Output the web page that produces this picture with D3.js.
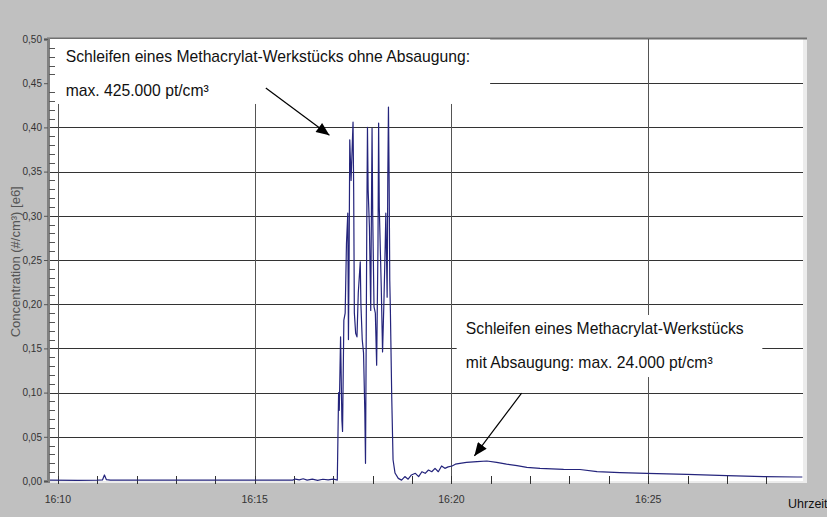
<!DOCTYPE html>
<html>
<head>
<meta charset="utf-8">
<script src="https://cdn.jsdelivr.net/npm/d3@7/dist/d3.min.js"></script>
<style>
  body { margin: 0; background: #c0c0c0; }
  svg { display: block; font-family: Arial, "Liberation Sans", sans-serif; }
</style>
</head>
<body>
<div id="chart"></div>
<script>
// measured concentration, 1e6 particles/cm3
const times = [
  "16:09:48","16:10:30","16:11:00","16:11:08","16:11:11","16:11:14","16:11:20","16:12:30","16:14:00","16:15:30",
  "16:15:58","16:16:02","16:16:08","16:16:14","16:16:20","16:16:28","16:16:36","16:16:44","16:16:52","16:17:00","16:17:05",
  "16:17:06","16:17:08","16:17:09","16:17:10","16:17:11","16:17:13","16:17:14","16:17:16","16:17:18","16:17:20",
  "16:17:22","16:17:23","16:17:24","16:17:25","16:17:27","16:17:30","16:17:31","16:17:32","16:17:34","16:17:36",
  "16:17:38","16:17:41","16:17:42","16:17:44","16:17:46","16:17:48","16:17:49","16:17:50","16:17:51","16:17:52",
  "16:17:53","16:17:55","16:17:57","16:17:58","16:17:59","16:18:00","16:18:02","16:18:04","16:18:06","16:18:08",
  "16:18:09","16:18:10","16:18:13","16:18:15","16:18:17","16:18:19","16:18:20","16:18:22","16:18:23","16:18:24",
  "16:18:25","16:18:26","16:18:27","16:18:29","16:18:31","16:18:34",
  "16:18:39","16:18:44","16:18:49","16:18:54","16:18:59","16:19:05","16:19:10","16:19:15","16:19:20","16:19:25",
  "16:19:30","16:19:35","16:19:40","16:19:45","16:19:50","16:19:55","16:20:01","16:20:06","16:20:13","16:20:23",
  "16:20:39","16:20:54","16:21:09","16:21:24","16:21:40","16:21:55","16:22:15","16:22:51","16:23:16","16:23:42",
  "16:24:17","16:24:58","16:25:59","16:27:00","16:27:56","16:28:47","16:28:55"
];
const values = [
  0.001,0.0008,0.001,0.0012,0.0068,0.0015,0.001,0.001,0.0009,0.001,
  0.001,0.0022,0.0012,0.0025,0.001,0.0021,0.0008,0.002,0.0012,0.0022,0.0012,
  0.001,0.10,0.08,0.122,0.163,0.069,0.056,0.182,0.19,0.269,
  0.303,0.16,0.25,0.386,0.34,0.406,0.326,0.19,0.167,0.163,
  0.213,0.248,0.20,0.16,0.145,0.077,0.02,0.15,0.295,0.40,
  0.33,0.287,0.193,0.303,0.399,0.30,0.197,0.19,0.131,0.265,
  0.405,0.31,0.22,0.146,0.20,0.265,0.303,0.208,0.344,0.423,
  0.344,0.227,0.19,0.095,0.024,0.009,
  0.003,0.001,0.005,0.002,0.0068,0.0087,0.005,0.0105,0.0087,0.0124,
  0.0105,0.0143,0.0105,0.017,0.0143,0.016,0.017,0.019,0.020,0.021,
  0.022,0.0226,0.021,0.019,0.0173,0.0155,0.0143,0.0132,0.0130,0.0105,
  0.0094,0.0087,0.0075,0.006,0.0049,0.0045,0.0045
];

const yMajor = [0, 0.05, 0.10, 0.15, 0.20, 0.25, 0.30, 0.35, 0.40, 0.45, 0.50];
const xMajor = ["16:10", "16:15", "16:20", "16:25"];
const xRange = ["16:09:48", "16:28:56"];

const yTitle = "Concentration (#/cm³) [e6]";
const xTitle = "Uhrzeit";
const noteTop = ["Schleifen eines Methacrylat-Werkstücks ohne Absaugung:", "max. 425.000 pt/cm³"];
const noteBottom = ["Schleifen eines Methacrylat-Werkstücks", "mit Absaugung: max. 24.000 pt/cm³"];

const W = 827, H = 517;
const m = { left: 50, top: 39, right: 24, bottom: 36 };

const parseT = d3.timeParse("%H:%M:%S");
const parseHM = d3.timeParse("%H:%M");
const data = times.map((t, i) => ({ t: parseT(t), v: values[i] }));

const svg = d3.select("#chart").append("svg")
  .attr("width", W).attr("height", H);

const x = d3.scaleTime()
  .domain(xRange.map(parseT))
  .range([m.left, W - m.right]);
const y = d3.scaleLinear()
  .domain([0, 0.5])
  .range([H - m.bottom, m.top]);

const fmt = d => d3.format(".2f")(d).replace(".", ",");

// plot background + frame
svg.append("rect")
  .attr("x", m.left).attr("y", m.top - 1)
  .attr("width", W - m.right - m.left + 4).attr("height", H - m.bottom - m.top + 3)
  .attr("fill", "#ececec");
svg.append("rect")
  .attr("x", m.left).attr("y", m.top)
  .attr("width", W - m.right - m.left).attr("height", H - m.bottom - m.top)
  .attr("fill", "#fff");
svg.append("line")
  .attr("x1", m.left - 3).attr("x2", W - m.right + 4)
  .attr("y1", m.top - 0.5).attr("y2", m.top - 0.5)
  .attr("stroke", "#707070").attr("stroke-width", 2);

// grid
const grid = svg.append("g");
grid.selectAll("line.h")
  .data(yMajor.slice(1, -1))
  .enter().append("line")
  .attr("class", "h")
  .attr("x1", m.left).attr("x2", W - m.right)
  .attr("y1", d => Math.round(y(d)) + 0.5).attr("y2", d => Math.round(y(d)) + 0.5)
  .attr("stroke", "#333").attr("stroke-width", 1);
grid.selectAll("line.v")
  .data(xMajor.map(parseHM))
  .enter().append("line")
  .attr("class", "v")
  .attr("x1", d => Math.round(x(d)) + 0.5).attr("x2", d => Math.round(x(d)) + 0.5)
  .attr("y1", m.top).attr("y2", H - m.bottom)
  .attr("stroke", "#555").attr("stroke-width", 1);

// minute ticks at the bottom (inside)
const minutes = d3.timeMinute.range(parseHM("16:10"), parseT(xRange[1]));
svg.append("g").selectAll("line")
  .data(minutes)
  .enter().append("line")
  .attr("x1", d => Math.round(x(d)) + 0.5).attr("x2", d => Math.round(x(d)) + 0.5)
  .attr("y1", H - m.bottom - 5).attr("y2", H - m.bottom + 3)
  .attr("stroke", "#333");

// white boxes behind notes
const boxes = svg.append("g");
boxes.append("rect")
  .attr("x", m.left).attr("y", m.top)
  .attr("width", x(parseT("16:20:59")) - m.left)
  .attr("height", y(0.4265) - m.top)
  .attr("fill", "#fff");
boxes.append("rect")
  .attr("x", x(parseT("16:20:08"))).attr("y", y(0.1878))
  .attr("width", x(parseT("16:27:54")) - x(parseT("16:20:08")))
  .attr("height", y(0.1176) - y(0.1878))
  .attr("fill", "#fff");

// data line
svg.append("path")
  .datum(data)
  .attr("fill", "none")
  .attr("stroke", "#24247c")
  .attr("stroke-width", 1.2)
  .attr("stroke-linejoin", "round")
  .attr("d", d3.line().x(d => x(d.t)).y(d => y(d.v)));

// y axis
const yAxis = d3.axisLeft(y)
  .tickValues(yMajor)
  .tickFormat(fmt)
  .tickSize(4)
  .tickPadding(2);
const gy = svg.append("g")
  .attr("transform", `translate(${m.left - 2},0)`)
  .call(yAxis);
gy.select(".domain").attr("stroke", "#808080").attr("stroke-width", 3);
gy.selectAll(".tick line").attr("stroke", "#555");
gy.selectAll("text").attr("fill", "#333").style("font-size", "10px").style("font-family", "Arial, 'Liberation Sans', sans-serif");

const yMinor = d3.range(0, 0.501, 0.01).filter(v => Math.round(v * 100) % 5 !== 0);
svg.append("g").selectAll("line")
  .data(yMinor)
  .enter().append("line")
  .attr("x1", m.left - 1).attr("x2", m.left + 5)
  .attr("y1", d => Math.round(y(d)) + 0.5).attr("y2", d => Math.round(y(d)) + 0.5)
  .attr("stroke", "#555");

// x labels
svg.append("g").selectAll("text")
  .data(xMajor)
  .enter().append("text")
  .attr("x", d => x(parseHM(d)))
  .attr("y", H - m.bottom + 22)
  .attr("text-anchor", "middle")
  .attr("fill", "#333")
  .style("font-size", "10.5px")
  .text(d => d);

svg.append("text")
  .attr("x", 788).attr("y", H - 9)
  .attr("fill", "#111")
  .style("font-size", "12.5px")
  .text(xTitle);

svg.append("text")
  .attr("transform", `translate(20,${y(0.248)}) rotate(-90)`)
  .attr("text-anchor", "middle")
  .attr("fill", "#555")
  .style("font-size", "13px")
  .text(yTitle);

// notes
const notes = svg.append("g").style("font-size", "15.7px").attr("fill", "#111");
notes.selectAll("text.top")
  .data(noteTop)
  .enter().append("text")
  .attr("class", "top")
  .attr("x", x(parseT("16:10:12")))
  .attr("y", (d, i) => y(0.4745) + i * 34)
  .text(d => d);
notes.selectAll("text.bot")
  .data(noteBottom)
  .enter().append("text")
  .attr("class", "bot")
  .attr("x", x(parseT("16:20:22")))
  .attr("y", (d, i) => y(0.1660) + i * 34)
  .text(d => d);

// arrows
svg.append("defs").append("marker")
  .attr("id", "head")
  .attr("viewBox", "0 0 12 10")
  .attr("refX", 12).attr("refY", 5)
  .attr("markerWidth", 14).attr("markerHeight", 11)
  .attr("markerUnits", "userSpaceOnUse")
  .attr("orient", "auto")
  .append("path").attr("d", "M0,0 L12,5 L0,10 Z").attr("fill", "#000");

const arrows = [
  { from: ["16:15:17", 0.4446], to: ["16:16:54", 0.391] },
  { from: ["16:21:47", 0.0995], to: ["16:20:35", 0.0283] }
];
svg.append("g").selectAll("line")
  .data(arrows)
  .enter().append("line")
  .attr("x1", d => x(parseT(d.from[0]))).attr("y1", d => y(d.from[1]))
  .attr("x2", d => x(parseT(d.to[0]))).attr("y2", d => y(d.to[1]))
  .attr("stroke", "#000").attr("stroke-width", 1.2)
  .attr("marker-end", "url(#head)");
</script>
</body>
</html>
